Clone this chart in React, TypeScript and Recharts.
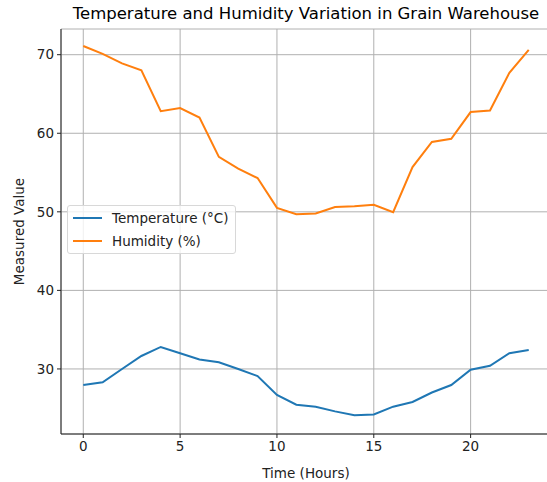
import React from "react";
import { LineChart, Line, XAxis, YAxis, CartesianGrid } from "recharts";

const hours = [0, 1, 2, 3, 4, 5, 6, 7, 8, 9, 10, 11, 12, 13, 14, 15, 16, 17, 18, 19, 20, 21, 22, 23];
const temperature = [27.95, 28.3, 30.0, 31.65, 32.8, 32.0, 31.2, 30.85, 30.0, 29.1, 26.7, 25.45, 25.2, 24.6, 24.1, 24.2, 25.2, 25.8, 27.0, 27.95, 29.9, 30.4, 32.0, 32.4];
const humidity = [71.1, 70.1, 68.9, 68.0, 62.8, 63.2, 62.0, 57.0, 55.5, 54.3, 50.5, 49.7, 49.8, 50.6, 50.7, 50.9, 49.95, 55.7, 58.9, 59.3, 62.7, 62.9, 67.7, 70.6];
const xTicks = [0, 5, 10, 15, 20];
const yTicks = [30, 40, 50, 60, 70];
const seriesNames = ["Temperature (°C)", "Humidity (%)"];
const colors = ["#1f77b4", "#ff7f0e"];

const data = hours.map((h, i) => ({ hour: h, temp: temperature[i], hum: humidity[i] }));

const FONT = "'DejaVu Sans', sans-serif";
const Y_DOMAIN: [number, number] = [21.72, 73.27];

export default function App() {
  return (
    <div style={{ position: "fixed", left: 0, top: 0, width: 547, height: 482, fontFamily: FONT, overflow: "hidden", background: "#fff" }}>
      <div style={{ position: "absolute", left: 0, width: 612, top: 4, textAlign: "center", fontSize: 16.5, lineHeight: "normal", color: "#000", whiteSpace: "nowrap" }}>
        Temperature and Humidity Variation in Grain Warehouse
      </div>
      <LineChart width={560} height={482} data={data} margin={{ top: 29, right: 9, bottom: 0, left: 0 }} style={{ fontFamily: FONT }}>
        <CartesianGrid stroke="#b0b0b0" strokeWidth={1} />
        <XAxis
          dataKey="hour"
          type="number"
          domain={[-1.15, 24.15]}
          allowDataOverflow
          ticks={xTicks}
          height={48}
          stroke="#222"
          tickSize={4}
          tick={{ fill: "#222", fontSize: 13.5, fontFamily: FONT }}
          tickMargin={3}
          label={{ value: "Time (Hours)", position: "insideBottom", offset: 4, fill: "#222", fontSize: 13.5, fontFamily: FONT }}
        />
        <XAxis xAxisId="top" orientation="top" dataKey="hour" type="number" domain={[-1.15, 24.15]} height={0} tick={false} tickLine={false} stroke="#222" />
        <YAxis
          type="number"
          domain={Y_DOMAIN}
          allowDataOverflow
          ticks={yTicks}
          width={61}
          stroke="#222"
          tickSize={4}
          tick={{ fill: "#222", fontSize: 13.5, fontFamily: FONT }}
          tickMargin={3}
          label={{ value: "Measured Value", angle: -90, position: "insideLeft", offset: 19, style: { textAnchor: "middle" }, fill: "#222", fontSize: 13.5, fontFamily: FONT }}
        />
        <YAxis yAxisId="right" orientation="right" width={0} tick={false} tickLine={false} stroke="#222" domain={Y_DOMAIN} />
        <Line dataKey="temp" name={seriesNames[0]} stroke={colors[0]} strokeWidth={2} dot={false} isAnimationActive={false} />
        <Line dataKey="hum" name={seriesNames[1]} stroke={colors[1]} strokeWidth={2} dot={false} isAnimationActive={false} />
      </LineChart>
      <div style={{ position: "absolute", left: 67, top: 205, width: 167, height: 47, border: "1px solid #d8d8d8", borderRadius: 3, background: "rgba(255,255,255,0.8)", fontSize: 13.5, color: "#222" }}>
        {seriesNames.map((n, i) => (
          <div key={n} style={{ position: "absolute", left: 5, top: 4 + i * 22.5, display: "flex", alignItems: "center", whiteSpace: "nowrap" }}>
            <span style={{ display: "inline-block", width: 29, height: 2, background: colors[i], marginRight: 10 }} />
            <span>{n}</span>
          </div>
        ))}
      </div>
    </div>
  );
}
